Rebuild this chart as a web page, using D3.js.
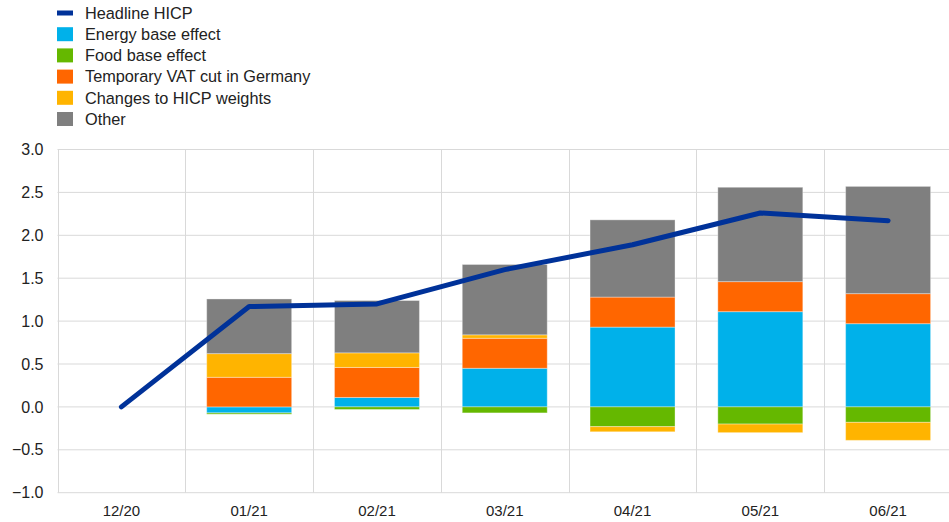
<!DOCTYPE html>
<html><head><meta charset="utf-8">
<script src="https://cdn.jsdelivr.net/npm/d3@7"></script>
<style>body{margin:0;background:#fff;}svg{display:block;font-family:"Liberation Sans",Arial,sans-serif;}</style>
</head><body><svg id="c" width="949" height="522"></svg>
<script>
const categories = ["12/20","01/21","02/21","03/21","04/21","05/21","06/21"];
const headline = [0.00, 1.17, 1.20, 1.60, 1.89, 2.26, 2.17];
const energy  = [null, -0.07, 0.11, 0.45, 0.93, 1.11, 0.97];
const food    = [null, -0.015, -0.03, -0.07, -0.23, -0.20, -0.18];
const vat     = [null, 0.345, 0.35, 0.35, 0.35, 0.35, 0.35];
const weights = [null, 0.276, 0.17, 0.04, -0.06, -0.10, -0.21];
const other   = [null, 0.637, 0.61, 0.82, 0.90, 1.10, 1.25];
const yTicks = [-1.0,-0.5,0.0,0.5,1.0,1.5,2.0,2.5,3.0];

const series = [
  {name:"Energy base effect", values:energy, color:"#00B1EA"},
  {name:"Food base effect", values:food, color:"#65B800"},
  {name:"Temporary VAT cut in Germany", values:vat, color:"#FF6600"},
  {name:"Changes to HICP weights", values:weights, color:"#FFB400"},
  {name:"Other", values:other, color:"#7F7F7F"}
];

const svg = d3.select("#c");
const m = {left:57.5, top:149.5, bottom:492.7};
const x = d3.scaleBand().domain(categories).range([m.left, 952]).paddingInner(0).paddingOuter(0);
const y = d3.scaleLinear().domain([-1,3]).range([m.bottom, m.top]);

// gridlines
const g = svg.append("g");
g.selectAll("line.h").data(yTicks).join("line")
  .attr("x1", m.left).attr("x2", 949).attr("y1", d=>y(d)).attr("y2", d=>y(d))
  .attr("stroke","#d9d9d9").attr("stroke-width",1);
g.selectAll("line.v").data(categories).join("line")
  .attr("x1", d=>Math.round(x(d))+0.5).attr("x2", d=>Math.round(x(d))+0.5)
  .attr("y1", y(3)).attr("y2", y(-1))
  .attr("stroke","#d9d9d9").attr("stroke-width",1);

// y axis labels
const yAxis = d3.axisLeft(y).tickValues(yTicks).tickFormat(d3.format(".1f")).tickSize(0).tickPadding(14);
const ya = svg.append("g").attr("transform",`translate(${m.left},0)`).call(yAxis);
ya.select(".domain").remove();
ya.selectAll("text").attr("font-size",16).attr("fill","#222").style("font-family","Liberation Sans, Arial, sans-serif");

// x axis labels
const xAxis = d3.axisBottom(x).tickSize(0).tickPadding(13);
const xa = svg.append("g").attr("transform",`translate(0,${m.bottom})`).call(xAxis);
xa.select(".domain").remove();
xa.selectAll("text").attr("font-size",15).attr("fill","#222").style("font-family","Liberation Sans, Arial, sans-serif");

// stacked bars (diverging)
const bw = x.bandwidth()*0.665;
categories.forEach((c,i)=>{
  let pos = 0, neg = 0;
  series.forEach(s=>{
    const v = s.values[i];
    if (v == null) return;
    let y0, y1;
    if (v >= 0) { y0 = pos; y1 = pos + v; pos = y1; }
    else { y0 = neg; y1 = neg + v; neg = y1; }
    svg.append("rect")
      .attr("x", x(c) + (x.bandwidth()-bw)/2)
      .attr("width", bw)
      .attr("y", y(Math.max(y0,y1)))
      .attr("height", Math.abs(y(y0)-y(y1)))
      .attr("fill", s.color)
      .attr("stroke","#ffffff").attr("stroke-opacity",0.35).attr("stroke-width",1);
  });
});

// headline line
const line = d3.line().x((d,i)=>x(categories[i])+x.bandwidth()/2).y(d=>y(d));
svg.append("path").datum(headline).attr("d",line)
  .attr("fill","none").attr("stroke","#003299").attr("stroke-width",5)
  .attr("stroke-linecap","round").attr("stroke-linejoin","round");

// legend
const legendItems = [{name:"Headline HICP", color:"#003299", line:true}].concat(series);
const lg = svg.append("g");
legendItems.forEach((d,i)=>{
  const cy = 13 + i*21.2;
  if (d.line) {
    lg.append("rect").attr("x",57).attr("y",cy-2.5).attr("width",16).attr("height",5).attr("fill",d.color);
  } else {
    lg.append("rect").attr("x",57).attr("y",cy-7).attr("width",16).attr("height",14).attr("fill",d.color);
  }
  lg.append("text").attr("x",85).attr("y",cy).attr("dy","0.35em")
    .attr("font-size",16.3).attr("fill","#222").text(d.name);
});
</script></body></html>
